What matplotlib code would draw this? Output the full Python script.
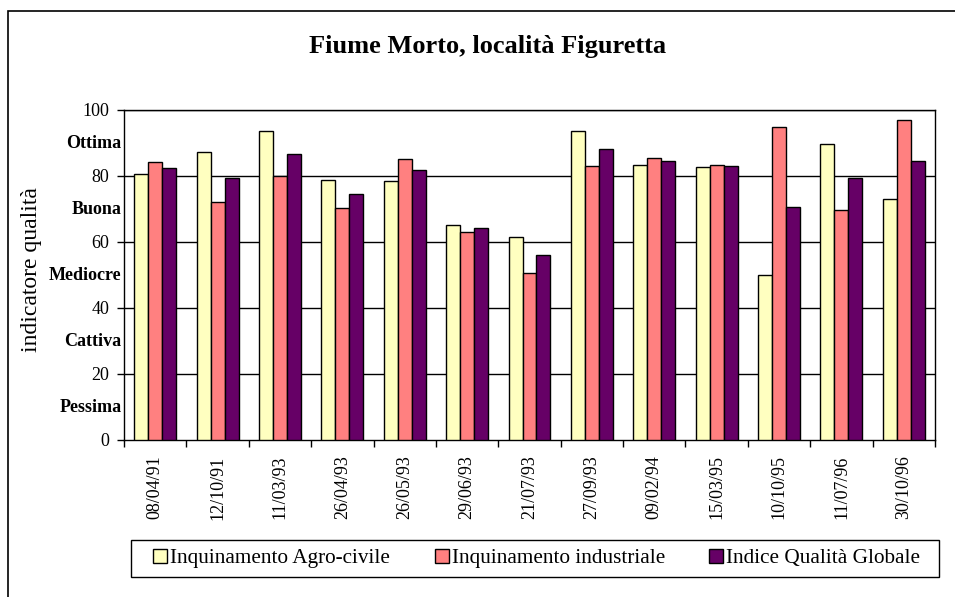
import matplotlib
matplotlib.use("Agg")
import matplotlib.pyplot as plt
import numpy as np
from matplotlib.patches import Rectangle
import matplotlib.transforms as mtransforms

dates = ["08/04/91", "12/10/91", "11/03/93", "26/04/93", "26/05/93", "29/06/93",
         "21/07/93", "27/09/93", "09/02/94", "15/03/95", "10/10/95", "11/07/96", "30/10/96"]
agro_civile = [80.6, 87.2, 93.5, 78.7, 78.4, 65.2, 61.5, 93.6, 83.4, 82.8, 50.0, 89.6, 72.9]
industriale = [84.1, 72.1, 80.1, 70.3, 85.1, 63.1, 50.6, 83.0, 85.5, 83.4, 94.9, 69.7, 97.0]
globale = [82.4, 79.5, 86.7, 74.4, 81.8, 64.1, 56.0, 88.3, 84.5, 83.1, 70.7, 79.4, 84.5]
series_names = ["Inquinamento Agro-civile", "Inquinamento industriale", "Indice Qualità Globale"]
quality_labels = ["Pessima", "Cattiva", "Mediocre", "Buona", "Ottima"]
quality_pos = [10, 30, 50, 70, 90]
y_ticks = [0, 20, 40, 60, 80, 100]

colors = ["#FFFFC0", "#FF8080", "#660066"]
serif = ["Liberation Serif", "DejaVu Serif"]
plt.rcParams["font.family"] = serif

W, H = 955, 597
fig = plt.figure(figsize=(W / 100, H / 100), dpi=100)

# outer frame (cropped at right and bottom)
fig.patches.append(Rectangle((8 / W, -0.2), 1.2, 0.2 + (1 - 11 / H), transform=fig.transFigure,
                             fill=False, edgecolor="black", linewidth=1.2, clip_on=False))

ax = fig.add_axes([124 / W, 1 - 440 / H, 811 / W, 330 / H])
x = np.arange(len(dates))
bw = 0.224
for i, (vals, c, name) in enumerate(zip([agro_civile, industriale, globale], colors, series_names)):
    ax.bar(x + (i - 1) * bw, vals, width=bw, color=c, edgecolor="black", linewidth=1.0,
           label=name, zorder=3)

ax.set_xlim(-0.5, len(dates) - 0.5)
ax.set_ylim(0, 100)
ax.set_yticks(y_ticks)
ax.set_yticklabels([str(v) for v in y_ticks], fontsize=13)
ax.tick_params(axis="y", direction="out", length=5, width=1, pad=5.5)
ax.set_xticks(x)
ax.set_xticklabels(dates, rotation=90, fontsize=13)
ax.tick_params(axis="x", which="major", length=0, pad=11)
ax.set_xticks(np.arange(-0.5, len(dates), 1.0), minor=True)
ax.tick_params(axis="x", which="minor", direction="out", length=5, width=1)
for yv in y_ticks[1:]:
    ax.axhline(yv, color="black", linewidth=1.0, zorder=1)
for s in ax.spines.values():
    s.set_linewidth(1.0)
    s.set_color("black")

trans = mtransforms.blended_transform_factory(ax.transAxes, ax.transData)
for lab, pos in zip(quality_labels, quality_pos):
    ax.text(-0.003, pos, lab, transform=trans, ha="right", va="center",
            fontsize=13, fontweight="bold")

fig.text(31 / W, 1 - 270 / H, "indicatore qualità", rotation=90, ha="center", va="center",
         fontsize=17)
fig.text(487.5 / W, 1 - 47 / H, "Fiume Morto, località Figuretta", ha="center", va="center",
         fontsize=19, fontweight="bold")

# legend box
fig.patches.append(Rectangle((131 / W, 1 - 577 / H), (939 - 131) / W, 37 / H,
                             transform=fig.transFigure, fill=True, facecolor="white",
                             edgecolor="black", linewidth=1.0, zorder=0))
handles, labels = ax.get_legend_handles_labels()
fs = 15.3
leg = fig.legend(handles, labels, loc="center left", ncol=3,
                 bbox_to_anchor=(153 / W, 1 - 558.5 / H), fontsize=fs,
                 frameon=False, handlelength=0.66, handleheight=0.66,
                 handletextpad=0.14, columnspacing=2.1, borderpad=0, borderaxespad=0)

fig.savefig("out.png", dpi=100)
